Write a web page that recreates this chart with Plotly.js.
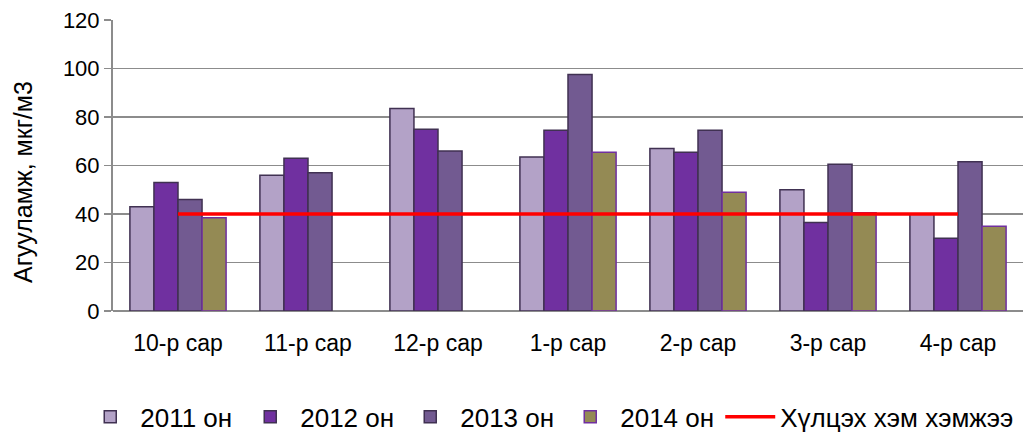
<!DOCTYPE html>
<html>
<head>
<meta charset="utf-8">
<script src="https://cdn.plot.ly/plotly-3.0.1.min.js"></script>
<style>html,body{margin:0;padding:0;background:#fff}#chart{width:1033px;height:434px}</style>
</head>
<body>
<div id="chart"></div>
<script>
const categories = ["10-р сар", "11-р сар", "12-р сар", "1-р сар", "2-р сар", "3-р сар", "4-р сар"];
const y2011 = [43, 56, 83.5, 63.5, 67, 50, 40];
const y2012 = [53, 63, 75, 74.5, 65.5, 36.5, 30];
const y2013 = [46, 57, 66, 97.5, 74.5, 60.5, 61.5];
const y2014 = [38.5, null, null, 65.5, 49, 40.5, 35];
const limit = [40, 40, 40, 40, 40, 40, 40];
const seriesNames = ["2011 он", "2012 он", "2013 он", "2014 он"];
const limitName = "Хүлцэх хэм хэмжээ";

const fills = ["#B3A2C7", "#7030A0", "#725A91", "#948A54"];
const outlines = ["#403152", "#403152", "#403152", "#7030A0"];
const vals = [y2011, y2012, y2013, y2014];

const traces = vals.map((v, i) => ({
  type: "bar",
  x: categories,
  y: v,
  name: seriesNames[i],
  marker: {color: fills[i], line: {color: outlines[i], width: 1.5}}
}));
traces.push({
  type: "scatter",
  mode: "lines",
  x: categories,
  y: limit,
  name: limitName,
  legendwidth: 320,
  line: {color: "#FF0000", width: 3.5}
});

const font = "Liberation Sans, Arial, sans-serif";
const layout = {
  width: 1033,
  height: 434,
  margin: {l: 113, r: 10, t: 20, b: 123, autoexpand: false},
  paper_bgcolor: "#ffffff",
  plot_bgcolor: "#ffffff",
  font: {family: font, color: "#000000"},
  barmode: "group",
  bargap: 0.26,
  bargroupgap: 0,
  showlegend: true,
  xaxis: {
    type: "category",
    tickfont: {size: 23, family: font, color: "#000"},
    showgrid: false,
    showline: false,
    ticks: "outside",
    ticklen: 11,
    tickcolor: "rgba(0,0,0,0)",
    zeroline: false
  },
  yaxis: {
    range: [0, 120],
    dtick: 20,
    tickfont: {size: 22, family: font, color: "#000"},
    showgrid: true,
    gridcolor: "#8C8C8C",
    gridwidth: 1.5,
    zeroline: true,
    zerolinecolor: "#8C8C8C",
    zerolinewidth: 2,
    showline: true,
    linecolor: "#8C8C8C",
    linewidth: 2,
    ticks: "outside",
    ticklen: 7,
    tickcolor: "#8C8C8C",
    tickwidth: 1.5
  },
  annotations: [{
    text: "Агууламж, мкг/м3",
    textangle: -90,
    xref: "paper", yref: "paper",
    x: (23 - 113) / 910, y: (311 - 182) / 291,
    xanchor: "center", yanchor: "middle",
    showarrow: false,
    font: {size: 25, family: font, color: "#000"}
  }],
  legend: {
    orientation: "h",
    x: -0.036,
    xanchor: "left",
    y: -0.364,
    yanchor: "middle",
    itemwidth: 50,
    entrywidth: 95,
    font: {size: 26, family: font, color: "#000"},
    bgcolor: "rgba(0,0,0,0)",
    traceorder: "normal"
  }
};

Plotly.newPlot("chart", traces, layout, {displayModeBar: false, staticPlot: true});
</script>
</body>
</html>
